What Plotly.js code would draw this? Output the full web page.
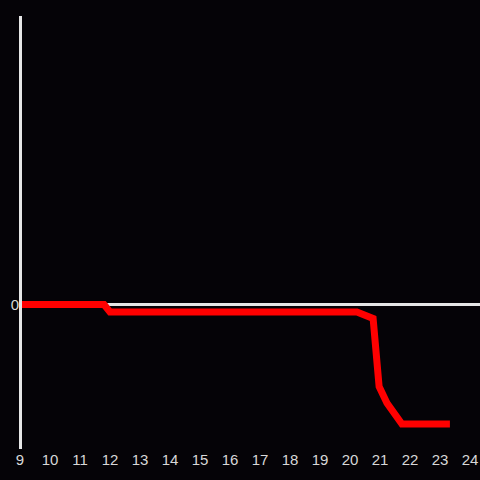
<!DOCTYPE html>
<html><head><meta charset="utf-8">
<script src="https://cdn.plot.ly/plotly-3.0.1.min.js"></script>
<style>html,body{margin:0;padding:0;background:#050307;}</style>
</head><body>
<div id="chart" style="width:480px;height:480px;"></div>
<script>
const xValues = [9, 11.8, 12.0, 20.23, 20.77, 20.97, 21.23, 21.73, 23.33];
const yValues = [0, 0, -0.75, -0.75, -1.4, -8.2, -9.85, -11.95, -11.95];
const xTicks = [9,10,11,12,13,14,15,16,17,18,19,20,21,22,23,24];

Plotly.newPlot('chart', [{
  x: xValues, y: yValues, type: 'scatter', mode: 'lines',
  line: {color: '#ff0000', width: 7},
  hoverinfo: 'skip'
}], {
  width: 480, height: 480,
  paper_bgcolor: '#050307', plot_bgcolor: '#050307',
  margin: {l: 20, r: 0, t: 16, b: 31},
  showlegend: false,
  font: {family: 'Liberation Sans, Arial, sans-serif', size: 15, color: '#d8d8d8'},
  xaxis: {range: [9, 24.333], tickvals: xTicks, ticktext: xTicks.map(String),
    showgrid: false, zeroline: false, showline: false, ticks: '', ticklen: 0,
    tickfont: {size: 15, color: '#d8d8d8'}},
  yaxis: {range: [-14.45, 28.85], tickvals: [0], ticktext: ['0'],
    showgrid: false, zeroline: true, zerolinecolor: '#e6e6e6', zerolinewidth: 3,
    showline: false, ticks: '',
    tickfont: {size: 15, color: '#d8d8d8'}},
  shapes: [{type: 'line', xref: 'paper', yref: 'paper', x0: 0.5/460, x1: 0.5/460, y0: 0, y1: 1,
    line: {color: '#e6e6e6', width: 3}, layer: 'above'}]
}, {staticPlot: true, displayModeBar: false});
</script>
</body></html>
